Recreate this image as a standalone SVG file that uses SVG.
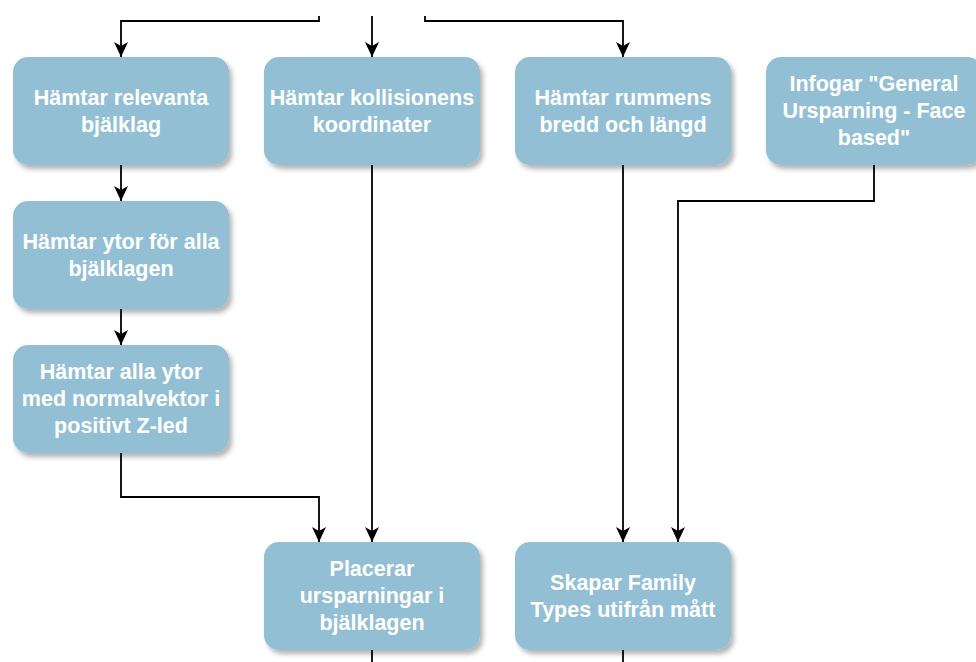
<svg xmlns="http://www.w3.org/2000/svg" width="976" height="662" viewBox="0 0 976 662">
  <style>
    .box { fill: #93bfd5; filter: url(#shadow); }
    .lbl { font-family: "Liberation Sans", Arial, Helvetica, sans-serif; font-size: 21.5px; font-weight: bold; fill: #ffffff; text-anchor: middle; }
    .wire { fill: none; stroke: #000000; stroke-width: 1.8; }
    .arrow { marker-end: url(#head); }
  </style>
  <defs>
    <filter id="shadow" x="-10%" y="-10%" width="130%" height="135%">
      <feGaussianBlur in="SourceAlpha" stdDeviation="2.5"/>
      <feOffset dx="3" dy="4" result="blur"/>
      <feComponentTransfer><feFuncA type="linear" slope="0.3"/></feComponentTransfer>
      <feMerge><feMergeNode/><feMergeNode in="SourceGraphic"/></feMerge>
    </filter>
    <!-- classic notched arrowhead, tip at the path end -->
    <marker id="head" viewBox="0 0 15 14" refX="15" refY="7" markerWidth="15" markerHeight="14" markerUnits="userSpaceOnUse" orient="auto">
      <path d="M0,0 L15,7 L0,14 L4,7 Z" fill="#000"/>
    </marker>
  </defs>

  <g id="connectors">
    <path class="wire arrow" d="M319,16 V21 H121 V57"/>
    <path class="wire arrow" d="M372,16 V57"/>
    <path class="wire arrow" d="M425,16 V21 H623 V57"/>
    <path class="wire arrow" d="M121,165 V201"/>
    <path class="wire arrow" d="M121,309 V345"/>
    <path class="wire arrow" d="M121,453 V497 H319 V542"/>
    <path class="wire arrow" d="M372,165 V542"/>
    <path class="wire arrow" d="M623,165 V542"/>
    <path class="wire arrow" d="M874,165 V201 H678 V542"/>
    <path class="wire" d="M372,650 V662"/>
    <path class="wire" d="M623,650 V662"/>
  </g>

  <g id="relevanta-bjalklag">
    <rect class="box" x="13" y="57" width="216" height="108" rx="15"/>
    <text class="lbl" x="121" y="105">Hämtar relevanta</text>
    <text class="lbl" x="121" y="132">bjälklag</text>
  </g>
  <g id="kollision-koordinater">
    <rect class="box" x="264" y="57" width="216" height="108" rx="15"/>
    <text class="lbl" x="372" y="105">Hämtar kollisionens</text>
    <text class="lbl" x="372" y="132">koordinater</text>
  </g>
  <g id="rummens-matt">
    <rect class="box" x="515" y="57" width="216" height="108" rx="15"/>
    <text class="lbl" x="623" y="105">Hämtar rummens</text>
    <text class="lbl" x="623" y="132">bredd och längd</text>
  </g>
  <g id="infogar-familj">
    <rect class="box" x="766" y="57" width="216" height="108" rx="15"/>
    <text class="lbl" x="874" y="91">Infogar "General</text>
    <text class="lbl" x="874" y="118">Ursparning - Face</text>
    <text class="lbl" x="874" y="145">based"</text>
  </g>
  <g id="ytor-bjalklag">
    <rect class="box" x="13" y="201" width="216" height="108" rx="15"/>
    <text class="lbl" x="121" y="249">Hämtar ytor för alla</text>
    <text class="lbl" x="121" y="276">bjälklagen</text>
  </g>
  <g id="ytor-positivt-z">
    <rect class="box" x="13" y="345" width="216" height="108" rx="15"/>
    <text class="lbl" x="121" y="379">Hämtar alla ytor</text>
    <text class="lbl" x="121" y="406">med normalvektor i</text>
    <text class="lbl" x="121" y="433">positivt Z-led</text>
  </g>
  <g id="placerar-ursparningar">
    <rect class="box" x="264" y="542" width="216" height="108" rx="15"/>
    <text class="lbl" x="372" y="576">Placerar</text>
    <text class="lbl" x="372" y="603">ursparningar i</text>
    <text class="lbl" x="372" y="630">bjälklagen</text>
  </g>
  <g id="skapar-family-types">
    <rect class="box" x="515" y="542" width="216" height="108" rx="15"/>
    <text class="lbl" x="623" y="590">Skapar Family</text>
    <text class="lbl" x="623" y="617">Types utifrån mått</text>
  </g>
</svg>
